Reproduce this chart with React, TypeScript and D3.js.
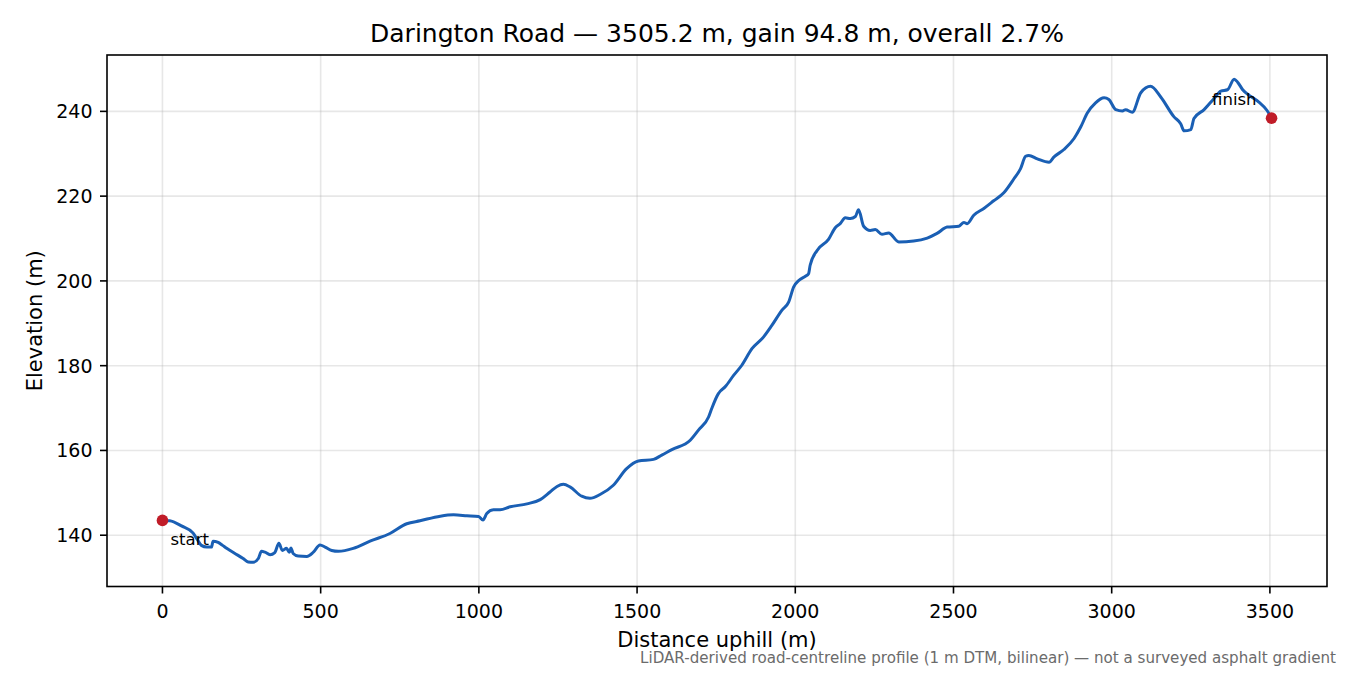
import React from "react";
import * as d3 from "d3";

const distance: number[] = [
  0, 23, 60, 97, 110, 123, 140, 155, 160, 176, 190, 203, 229, 255, 271, 287, 303, 313, 324, 340,
  355, 368, 379, 392, 401, 406, 413, 429, 456, 477, 498, 514, 535, 556, 603, 656, 719, 772, 814, 878,
  920, 962, 999, 1013, 1025, 1046, 1067, 1099, 1152, 1194, 1225, 1247, 1267, 1288, 1325, 1351, 1383, 1425, 1467, 1504,
  1552, 1578, 1610, 1668, 1694, 1726, 1736, 1757, 1763, 1778, 1805, 1831, 1863, 1900, 1926, 1958, 1979, 1995, 2011, 2032,
  2042, 2047, 2069, 2105, 2127, 2142, 2158, 2174, 2190, 2200, 2216, 2237, 2253, 2274, 2295, 2327, 2374, 2417, 2448, 2480,
  2517, 2533, 2543, 2564, 2596, 2627, 2659, 2691, 2712, 2728, 2738, 2765, 2802, 2817, 2849, 2881, 2902, 2923, 2949, 2976,
  2991, 3013, 3034, 3044, 3065, 3092, 3123, 3155, 3197, 3218, 3229, 3250, 3260, 3292, 3323, 3345, 3366, 3387, 3398, 3414,
  3440, 3465, 3491, 3505.2,
];

const elevation: number[] = [
  143.5, 143.4, 142.2, 140.5, 139.0, 137.6, 137.2, 137.2, 138.6, 138.3, 137.6, 136.9, 135.7, 134.5, 133.7, 133.6, 134.5, 136.2, 136.0, 135.4,
  135.9, 138.1, 136.4, 136.9, 136.0, 137.0, 135.7, 135.1, 135.0, 136.0, 137.7, 137.2, 136.4, 136.2, 136.9, 138.6, 140.4, 142.7, 143.4, 144.5,
  144.8, 144.6, 144.4, 143.6, 145.1, 146.0, 146.0, 146.7, 147.4, 148.4, 150.2, 151.5, 152.0, 151.4, 149.2, 148.7, 149.6, 151.8, 155.7, 157.5,
  157.9, 158.9, 160.2, 162.4, 164.8, 167.9, 169.9, 173.4, 174.0, 175.0, 177.7, 180.1, 184.0, 186.8, 189.5, 193.1, 195.0, 198.6, 200.1, 201.1,
  201.7, 203.7, 207.2, 209.8, 212.6, 213.5, 214.9, 214.7, 215.2, 216.8, 212.9, 211.9, 212.1, 211.0, 211.3, 209.2, 209.4, 210.1, 211.2, 212.7,
  212.9, 213.8, 213.5, 215.5, 217.1, 218.9, 220.8, 224.1, 226.5, 229.4, 229.6, 228.8, 228.0, 229.2, 231.0, 233.6, 236.3, 239.6, 242.0, 243.2,
  242.8, 240.4, 240.1, 240.4, 239.8, 244.4, 245.9, 243.4, 238.7, 237.1, 235.4, 235.7, 238.3, 240.4, 243.0, 244.8, 245.1, 247.6, 246.9, 245.1,
  243.5, 242.2, 240.2, 238.4,
];

const xTicks: number[] = [0, 500, 1000, 1500, 2000, 2500, 3000, 3500];
const yTicks: number[] = [140, 160, 180, 200, 220, 240];

const titleText = "Darington Road — 3505.2 m, gain 94.8 m, overall 2.7%";
const xLabel = "Distance uphill (m)";
const yLabel = "Elevation (m)";
const footnote = "LiDAR-derived road-centreline profile (1 m DTM, bilinear) — not a surveyed asphalt gradient";
const startLabel = "start";
const finishLabel = "finish";

const W = 1350;
const H = 675;
const L = 107;
const R = 1327;
const T = 55;
const B = 586.5;
const FONT = "DejaVu Sans, sans-serif";
const LINE = "#1a5fb4";
const DOT = "#c01c28";

export default function App() {
  const xMin = d3.min(distance)!;
  const xMax = d3.max(distance)!;
  const yMin = d3.min(elevation)!;
  const yMax = d3.max(elevation)!;
  const xm = (xMax - xMin) * 0.05;
  const ym = (yMax - yMin) * 0.05;
  const x = d3.scaleLinear().domain([xMin - xm, xMax + xm]).range([L, R]);
  const y = d3.scaleLinear().domain([yMin - ym, yMax + ym]).range([B, T]);

  const pts: [number, number][] = distance.map((d, i) => [d, elevation[i]]);
  const line = d3
    .line<[number, number]>()
    .x((p) => x(p[0]))
    .y((p) => y(p[1]))
    .curve(d3.curveMonotoneX);

  const first = pts[0];
  const last = pts[pts.length - 1];

  return (
    <svg
      width={W}
      height={H}
      style={{ position: "absolute", left: 0, top: 0, background: "#fff" }}
      fontFamily={FONT}
    >
      <rect x={0} y={0} width={W} height={H} fill="#fff" />
      {/* grid */}
      {xTicks.map((t) => (
        <line key={"gx" + t} x1={x(t)} x2={x(t)} y1={T} y2={B} stroke="#b0b0b0" strokeOpacity={0.3} strokeWidth={1.6} />
      ))}
      {yTicks.map((t) => (
        <line key={"gy" + t} x1={L} x2={R} y1={y(t)} y2={y(t)} stroke="#b0b0b0" strokeOpacity={0.3} strokeWidth={1.6} />
      ))}
      {/* line */}
      <path d={line(pts) || ""} fill="none" stroke={LINE} strokeWidth={3} strokeLinejoin="round" strokeLinecap="round" />
      <circle cx={x(first[0])} cy={y(first[1])} r={5.8} fill={DOT} />
      <circle cx={x(last[0])} cy={y(last[1])} r={5.8} fill={DOT} />
      <text x={x(first[0]) + 8} y={y(first[1]) + 25} fontSize={16.5} fill="#000">
        {startLabel}
      </text>
      <text x={x(last[0]) - 15} y={y(last[1]) - 13} fontSize={16.5} fill="#000" textAnchor="end">
        {finishLabel}
      </text>
      {/* spines */}
      <rect x={L} y={T} width={R - L} height={B - T} fill="none" stroke="#000" strokeWidth={1.6} />
      {/* x ticks */}
      {xTicks.map((t) => (
        <g key={"xt" + t}>
          <line x1={x(t)} x2={x(t)} y1={B} y2={B + 7} stroke="#000" strokeWidth={1.6} />
          <text x={x(t)} y={617.5} fontSize={19} textAnchor="middle" fill="#000">
            {t}
          </text>
        </g>
      ))}
      {/* y ticks */}
      {yTicks.map((t) => (
        <g key={"yt" + t}>
          <line x1={L - 7} x2={L} y1={y(t)} y2={y(t)} stroke="#000" strokeWidth={1.6} />
          <text x={L - 14.5} y={y(t)} dy="0.36em" fontSize={19} textAnchor="end" fill="#000">
            {t}
          </text>
        </g>
      ))}
      {/* labels */}
      <text x={(L + R) / 2} y={42} fontSize={25} textAnchor="middle" fill="#000">
        {titleText}
      </text>
      <text x={(L + R) / 2} y={646.5} fontSize={21} textAnchor="middle" fill="#000">
        {xLabel}
      </text>
      <text
        transform={`translate(41.5, ${(T + B) / 2}) rotate(-90)`}
        fontSize={21}
        textAnchor="middle"
        fill="#000"
      >
        {yLabel}
      </text>
      <text x={1336} y={663} fontSize={15.1} textAnchor="end" fill="#6b6b6b">
        {footnote}
      </text>
    </svg>
  );
}
